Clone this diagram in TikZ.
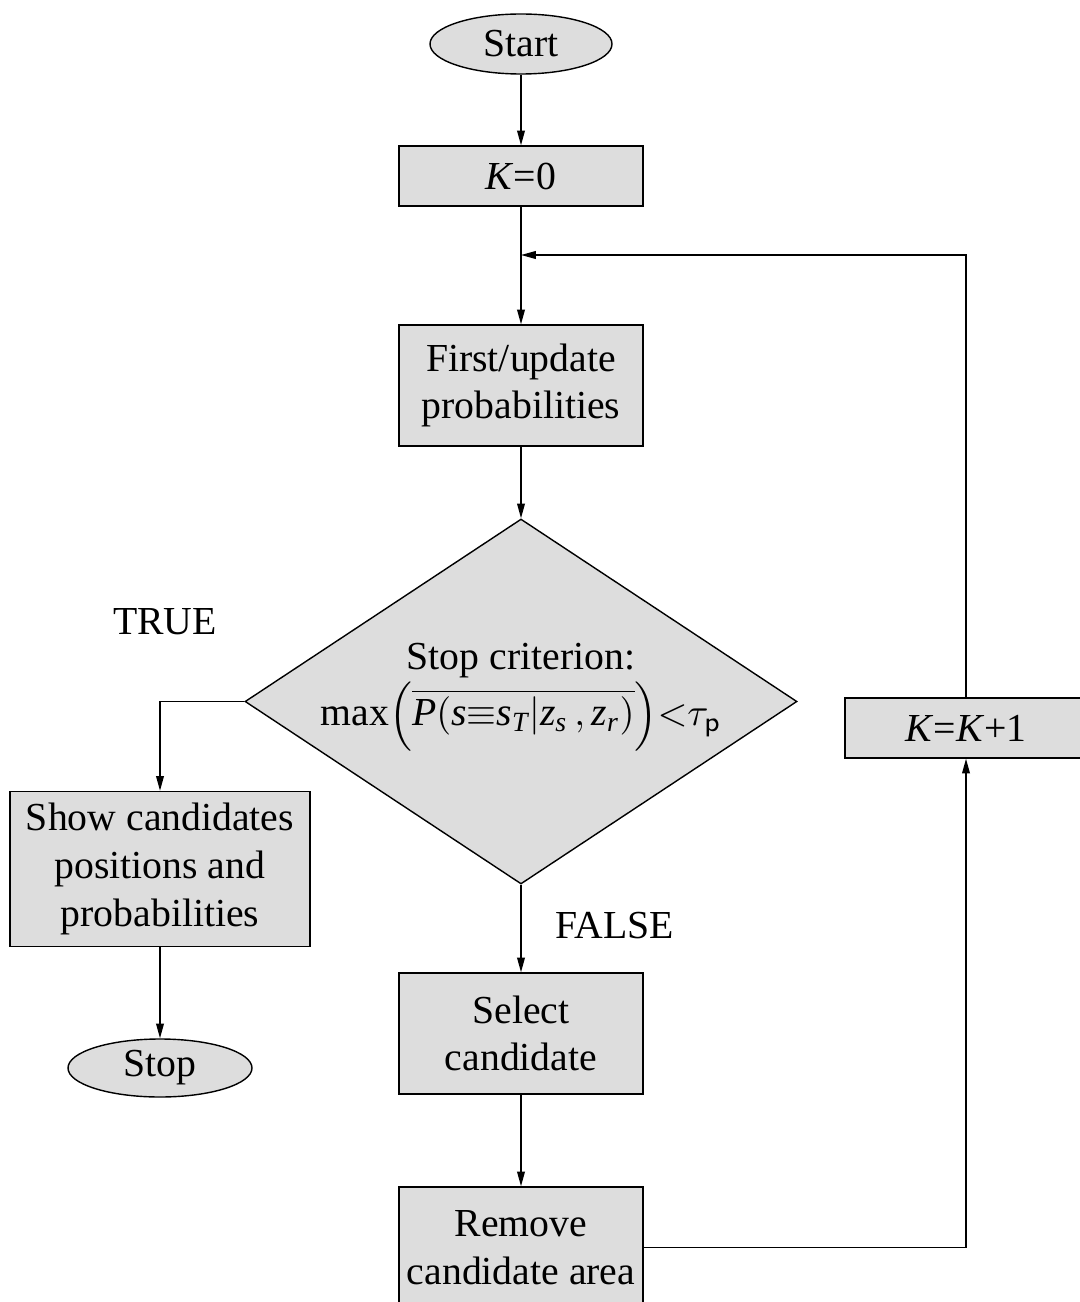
\documentclass[tikz,border=0pt]{standalone}
\usepackage{amsmath}
\usepackage{fontspec}
\setmainfont{Liberation Serif}
\usepackage{tikz}
\usetikzlibrary{shapes.geometric}
\usetikzlibrary{arrows.meta}
\definecolor{boxgray}{RGB}{221,221,221}

\begin{document}
\begin{tikzpicture}[font=\fontsize{11.3}{13.6}\selectfont,
	>={Triangle[length=4.2pt,width=2.2pt]}]
				\useasboundingbox (0,0) rectangle (10.8,-13.02);
				\begin{scope}[every node/.style={draw,fill=boxgray,minimum width=2.44cm,inner xsep=1pt,align=center}]
					\node[ellipse,inner sep=0pt,minimum width=1.82cm,minimum height=0.6cm] (start) at (5.21,-0.44) {Start};
					\node[minimum height=0.6cm] (k0) at (5.21,-1.76) {\textit{K}=0};
					\node[minimum height=1.21cm] (update) at (5.21,-3.855) {First/update\\probabilities};
					\node[diamond,inner sep=0pt,minimum width=5.52cm,minimum height=3.65cm] (crit) at (5.21,-7.015) {};
					\node[minimum width=3cm,minimum height=1.52cm] (show) at (1.6,-8.69) {Show candidates\\positions and\\probabilities};
					\node[ellipse,inner sep=0pt,minimum width=1.84cm,minimum height=0.58cm] (stop) at (1.6,-10.68) {Stop};
					\node[minimum height=1.21cm] (select) at (5.21,-10.335) {Select\\candidate};
					\node[minimum height=1.21cm] (remove) at (5.21,-12.475) {Remove\\candidate area};
					\node[minimum width=2.42cm,minimum height=0.6cm] (kinc) at (9.66,-7.28) {\textit{K}=\textit{K}+1};
				\end{scope}
				
				\node[align=center] (crittext) at (5.21,-6.97) {Stop criterion:\\
					$\mathrm{max}\Bigl(\overline{\mathit{P}\mathrm{(}\mathit{s}\mathord{\equiv}\mathit{s}_{\mathit{T}}|\mathit{z}_{\mathit{s}}\,,\mathit{z}_{\mathit{r}}\mathrm{)}}\Bigr)\mathord{<}\tau_{\mathsf{p}}$};
				\node (true) at (1.65,-6.22) {TRUE};
				\node (false) at (6.15,-9.26) {FALSE};
				\coordinate (join) at (5.21,-2.55);
				
				\path [->] (start) edge (k0);
				\path [->] (k0) edge (update);
				\path [->] (update) edge (crit);
				\path [->] (crit) edge (select);
				\path [->] (select) edge (remove);
				\path [->] (show) edge (stop);
				\draw [->] (crit.west) -| (show.north);
				\draw [->] (remove.east) -| (kinc.south);
				\draw [->] (kinc.north) |- (join);
			\end{tikzpicture}
\end{document}
